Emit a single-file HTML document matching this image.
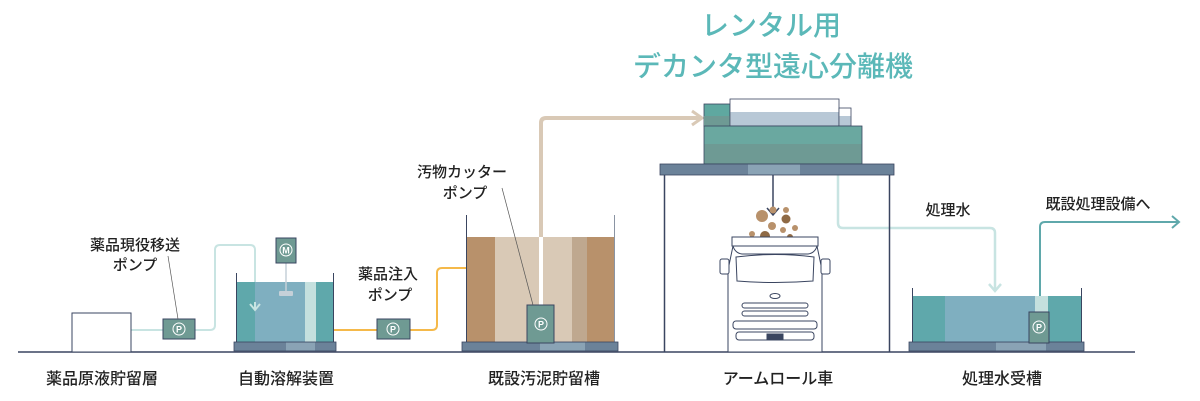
<!DOCTYPE html>
<html><head><meta charset="utf-8"><style>
html,body{margin:0;padding:0;background:#fff;}
svg{display:block;}
text{font-family:"Liberation Sans","Noto Sans CJK JP",sans-serif;fill:#222;font-weight:500;}
</style></head><body>
<svg width="1200" height="401" viewBox="0 0 1200 401" xmlns="http://www.w3.org/2000/svg">
<!-- title -->
<text x="771" y="35" font-size="28" text-anchor="middle" style="fill:#5bb8b8">レンタル用</text>
<text x="773" y="76" font-size="28" text-anchor="middle" style="fill:#5bb8b8">デカンタ型遠心分離機</text>

<!-- pipes -->
<path d="M131 330 H163 M195 330 H210 Q215 330 215 325 V250 Q215 245 220 245 H250 Q255 245 255 250 V310" fill="none" stroke="#c8e4e2" stroke-width="2"/>
<path d="M250 304 L255 310 L260 304" fill="none" stroke="#c8e4e2" stroke-width="2"/>
<path d="M333 330 H377 M410 330 H432 Q437 330 437 325 V273 Q437 268 442 268 H466" fill="none" stroke="#f5b94a" stroke-width="2"/>
<path d="M541 237 V123 Q541 118 546 118 H700" fill="none" stroke="#d9c9b6" stroke-width="4"/>
<path d="M692 111 L702 118 L692 125" fill="none" stroke="#d9c9b6" stroke-width="3"/>
<path d="M838 175 V223 Q838 228 843 228 H990 Q995 228 995 233 V291" fill="none" stroke="#c8e4e2" stroke-width="2.5"/>
<path d="M989 284 L995 291 L1001 284" fill="none" stroke="#c8e4e2" stroke-width="2.5"/>
<path d="M1040 312 V227 Q1040 222 1045 222 H1178" fill="none" stroke="#5fa8ab" stroke-width="2"/>
<path d="M1172 216 L1179 222 L1172 228" fill="none" stroke="#5fa8ab" stroke-width="2"/>

<!-- ground -->
<line x1="18" y1="352" x2="1135" y2="352" stroke="#3a4560" stroke-width="1.5"/>

<!-- tank1 -->
<rect x="72" y="313" width="59" height="39" fill="#fff" stroke="#3a4560" stroke-width="1"/>
<!-- pump1 -->
<rect x="163" y="319" width="32" height="20" fill="#6f9a93" stroke="#3a4560"/>
<circle cx="179" cy="329" r="6" fill="none" stroke="#fff" stroke-width="1"/>
<text x="179" y="332.5" font-size="9" text-anchor="middle" style="fill:#fff;font-weight:bold">P</text>
<text x="135" y="250" font-size="15" text-anchor="middle">薬品現役移送</text>
<text x="135" y="270" font-size="15" text-anchor="middle">ポンプ</text>
<line x1="168" y1="256" x2="178" y2="319" stroke="#555" stroke-width="0.7"/>

<!-- tank2 -->
<rect x="237" y="282" width="18" height="61" fill="#5fa8ab"/>
<rect x="255" y="282" width="50" height="61" fill="#7fafc0"/>
<rect x="305" y="282" width="11" height="61" fill="#c5e0de"/>
<rect x="316" y="282" width="17" height="61" fill="#5fa8ab"/>
<path d="M255 310 V302" stroke="#c8e4e2" stroke-width="2"/>
<path d="M250 304 L255 310 L260 304" fill="none" stroke="#c8e4e2" stroke-width="2"/>
<line x1="236.5" y1="273" x2="236.5" y2="343" stroke="#3a4560"/>
<line x1="333.5" y1="273" x2="333.5" y2="343" stroke="#3a4560"/>
<rect x="234" y="342" width="102" height="9" fill="#6b8299" stroke="#3a4560" stroke-width="0.8"/>
<rect x="286" y="342.5" width="29" height="8" fill="#8aa3b5"/>
<line x1="286" y1="262" x2="286" y2="296" stroke="#c5d0d8" stroke-width="1.5"/>
<rect x="279" y="291" width="14" height="5" rx="1" fill="#c5d0d8"/>
<rect x="276" y="238" width="20" height="25" fill="#6f9a93" stroke="#3a4560"/>
<circle cx="286" cy="250" r="6" fill="none" stroke="#fff"/>
<text x="286" y="253.5" font-size="9" text-anchor="middle" style="fill:#fff;font-weight:bold">M</text>

<!-- pump2 -->
<rect x="377" y="319" width="33" height="20" fill="#6f9a93" stroke="#3a4560"/>
<circle cx="393" cy="329" r="6" fill="none" stroke="#fff"/>
<text x="393" y="332.5" font-size="9" text-anchor="middle" style="fill:#fff;font-weight:bold">P</text>
<text x="388" y="279" font-size="15" text-anchor="middle">薬品注入</text>
<text x="390" y="300" font-size="15" text-anchor="middle">ポンプ</text>

<!-- tank3 -->
<rect x="467" y="237" width="28" height="106" fill="#b8916b"/>
<rect x="495" y="237" width="77" height="106" fill="#d9c9b6"/>
<rect x="539" y="237" width="4" height="68" fill="#fff"/>
<rect x="572" y="237" width="15" height="106" fill="#bfa88f"/>
<rect x="587" y="237" width="27" height="106" fill="#b8916b"/>
<line x1="466.5" y1="215" x2="466.5" y2="343" stroke="#3a4560"/>
<line x1="614.5" y1="215" x2="614.5" y2="343" stroke="#8a94a3"/>
<rect x="462" y="342" width="156" height="9" fill="#6b8299" stroke="#3a4560" stroke-width="0.8"/>
<rect x="540" y="342.5" width="45" height="8" fill="#8aa3b5"/>
<rect x="527" y="305" width="27" height="38" fill="#6f9a93" stroke="#3a4560"/>
<circle cx="541" cy="324" r="6" fill="none" stroke="#fff"/>
<text x="541" y="327.5" font-size="9" text-anchor="middle" style="fill:#fff;font-weight:bold">P</text>
<text x="462" y="177" font-size="15" text-anchor="middle">汚物カッター</text>
<text x="465" y="198" font-size="15" text-anchor="middle">ポンプ</text>
<line x1="502" y1="188" x2="533" y2="305" stroke="#555" stroke-width="0.7"/>

<!-- decanter -->
<rect x="704" y="104" width="26" height="22" fill="#5fa8a0" stroke="#3a4560" stroke-width="0.8"/>
<rect x="704" y="116" width="26" height="10" fill="#6e9a94"/>
<rect x="730" y="99" width="109" height="27" fill="#fff" stroke="#3a4560" stroke-width="0.8"/>
<rect x="730.5" y="112" width="108" height="13.5" fill="#b8c8d6"/>
<rect x="839" y="108" width="12" height="18" fill="#fff" stroke="#3a4560" stroke-width="0.8"/>
<rect x="839.5" y="116" width="11" height="9.5" fill="#b8c8d6"/>
<rect x="704" y="126" width="158" height="38" fill="#6aa8a0" stroke="#3a4560" stroke-width="0.8"/>
<rect x="704.5" y="144" width="157" height="19.5" fill="#6e9a94"/>
<rect x="660" y="164" width="234" height="11" fill="#6b8299" stroke="#3a4560" stroke-width="0.8"/>
<rect x="748" y="164.5" width="52" height="10" fill="#8aa3b5"/>
<line x1="664.5" y1="175" x2="664.5" y2="352" stroke="#3a4560" stroke-width="1.5"/>
<line x1="889.5" y1="175" x2="889.5" y2="352" stroke="#3a4560" stroke-width="1.5"/>
<line x1="773" y1="175" x2="773" y2="214" stroke="#3a4560" stroke-width="1.5"/>
<path d="M767 208 L773 215 L779 208" fill="none" stroke="#3a4560" stroke-width="1.5"/>
<!-- particles -->
<g fill="#b8916b">
<circle cx="762" cy="216" r="6"/><circle cx="773" cy="210" r="3.5"/><circle cx="786" cy="219" r="4.5" fill="#8f6a45"/>
<circle cx="786" cy="210" r="3"/><circle cx="772" cy="226" r="4"/><circle cx="783" cy="230" r="3"/>
<circle cx="795" cy="228" r="3"/><circle cx="752" cy="234" r="3"/><circle cx="765" cy="236" r="5" fill="#8f6a45"/><circle cx="790" cy="237" r="3" fill="#8f6a45"/>
</g>
<!-- truck -->
<g fill="#fff" stroke="#3a4560" stroke-width="1">
<rect x="732" y="237" width="86" height="9"/>
<path d="M733 246 Q735 253 742 254 H808 Q815 253 817 246 L822 270 V352 H728 V270 Z"/>
<rect x="720" y="259" width="9" height="15" rx="2"/>
<rect x="821" y="259" width="9" height="15" rx="2"/>
<path d="M736 257 Q775 252 814 257 L813 281 Q775 284 737 281 Z"/>
<ellipse cx="775" cy="296" rx="5" ry="2.5"/>
<rect x="742" y="303" width="66" height="5" rx="2.5"/>
<rect x="742" y="311" width="66" height="5" rx="2.5"/>
<rect x="733" y="321" width="84" height="8" rx="3"/>
<rect x="736" y="332" width="78" height="8" rx="3"/>
<rect x="767" y="334" width="16" height="5" fill="#3a4560"/>
</g>

<!-- water tank4 -->
<rect x="913" y="296" width="32" height="47" fill="#5fa8ab"/>
<rect x="945" y="296" width="90" height="47" fill="#7fafc0"/>
<rect x="1035" y="296" width="13" height="47" fill="#c5e0de"/>
<rect x="1048" y="296" width="33" height="47" fill="#5fa8ab"/>
<line x1="912.5" y1="288" x2="912.5" y2="343" stroke="#3a4560"/>
<line x1="1081.5" y1="288" x2="1081.5" y2="343" stroke="#3a4560"/>
<rect x="909" y="342" width="175" height="9" fill="#6b8299" stroke="#3a4560" stroke-width="0.8"/>
<rect x="996" y="342.5" width="50" height="8" fill="#8aa3b5"/>
<rect x="1029" y="312" width="20" height="31" fill="#6f9a93" stroke="#3a4560"/>
<circle cx="1039" cy="327" r="6" fill="none" stroke="#fff"/>
<text x="1039" y="330.5" font-size="9" text-anchor="middle" style="fill:#fff;font-weight:bold">P</text>
<text x="948" y="215" font-size="15" text-anchor="middle">処理水</text>
<text x="1098" y="209" font-size="15" text-anchor="middle">既設処理設備へ</text>

<!-- bottom labels -->
<g font-size="16" text-anchor="middle">
<text x="102" y="384">薬品原液貯留層</text>
<text x="286" y="384">自動溶解装置</text>
<text x="544" y="384">既設汚泥貯留槽</text>
<text x="778" y="384">アームロール車</text>
<text x="1002" y="384">処理水受槽</text>
</g>
</svg>
</body></html>
